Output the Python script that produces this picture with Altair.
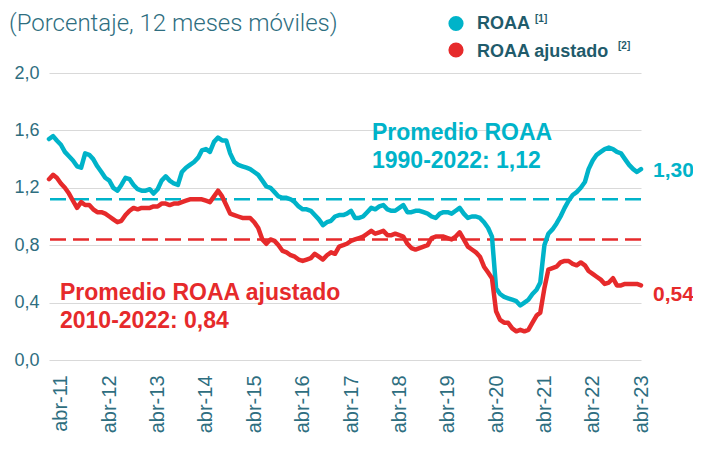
import altair as alt
import pandas as pd

# ROAA monthly (12-month rolling, %), Jan-2011 .. Apr-2023
roaa = [1.54, 1.56, 1.53, 1.50, 1.45, 1.42, 1.39, 1.35, 1.34, 1.44,
        1.43, 1.40, 1.35, 1.31, 1.27, 1.25, 1.20, 1.18, 1.22, 1.27,
        1.26, 1.22, 1.19, 1.18, 1.18, 1.19, 1.16, 1.19, 1.25, 1.28,
        1.25, 1.23, 1.22, 1.31, 1.34, 1.36, 1.38, 1.41, 1.46, 1.47,
        1.45, 1.52, 1.55, 1.53, 1.53, 1.44, 1.38, 1.36, 1.35, 1.34,
        1.33, 1.31, 1.29, 1.25, 1.21, 1.20, 1.17, 1.14, 1.13, 1.13,
        1.12, 1.10, 1.07, 1.05, 1.05, 1.04, 1.01, 0.98, 0.94, 0.96,
        0.97, 1.00, 1.01, 1.01, 1.02, 1.04, 0.99, 0.99, 1.00, 1.03,
        1.06, 1.05, 1.07, 1.08, 1.05, 1.04, 1.04, 1.06, 1.08, 1.03,
        1.03, 1.04, 1.04, 1.03, 1.02, 1.00, 0.99, 1.02, 1.03, 1.03,
        1.02, 1.04, 1.06, 1.02, 0.99, 1.00, 1.00, 0.99, 0.96, 0.92,
        0.86, 0.50, 0.46, 0.44, 0.43, 0.42, 0.41, 0.38, 0.40, 0.42,
        0.46, 0.49, 0.54, 0.80, 0.88, 0.91, 0.95, 1.00, 1.06, 1.11,
        1.15, 1.17, 1.20, 1.24, 1.33, 1.39, 1.43, 1.45, 1.47, 1.48,
        1.47, 1.45, 1.44, 1.40, 1.36, 1.33, 1.31, 1.33]

# ROAA ajustado
roaa_aj = [1.26, 1.29, 1.27, 1.23, 1.20, 1.16, 1.11, 1.06, 1.10, 1.08,
           1.08, 1.05, 1.03, 1.03, 1.02, 1.00, 0.98, 0.96, 0.97, 1.01,
           1.04, 1.06, 1.05, 1.06, 1.06, 1.06, 1.07, 1.07, 1.09, 1.09,
           1.08, 1.09, 1.09, 1.10, 1.11, 1.12, 1.12, 1.12, 1.12, 1.11,
           1.10, 1.14, 1.18, 1.14, 1.08, 1.02, 1.01, 1.00, 0.99, 0.99,
           0.99, 0.96, 0.92, 0.84, 0.81, 0.84, 0.83, 0.80, 0.76, 0.75,
           0.73, 0.72, 0.70, 0.69, 0.70, 0.71, 0.74, 0.72, 0.70, 0.73,
           0.75, 0.74, 0.79, 0.80, 0.81, 0.83, 0.84, 0.85, 0.86, 0.88,
           0.90, 0.88, 0.89, 0.90, 0.87, 0.87, 0.88, 0.87, 0.86, 0.81,
           0.78, 0.77, 0.78, 0.79, 0.80, 0.85, 0.86, 0.86, 0.86, 0.85,
           0.84, 0.86, 0.89, 0.84, 0.79, 0.77, 0.75, 0.72, 0.65, 0.61,
           0.57, 0.34, 0.28, 0.26, 0.26, 0.22, 0.20, 0.21, 0.20, 0.21,
           0.26, 0.31, 0.33, 0.50, 0.63, 0.64, 0.65, 0.68, 0.69, 0.69,
           0.67, 0.66, 0.68, 0.66, 0.62, 0.60, 0.58, 0.56, 0.53, 0.54,
           0.57, 0.52, 0.52, 0.53, 0.53, 0.53, 0.53, 0.52]

promedios = [1.12, 0.84]
y_ticks = [0.0, 0.4, 0.8, 1.2, 1.6, 2.0]
x_tick_years = list(range(2011, 2024))

CYAN = "#00b3c9"
RED = "#e62a2b"
AXIS_COLOR = "#2e6e80"
LEG_COLOR = "#1f5b6b"
FONT = "Liberation Sans"

fechas = pd.date_range("2011-01-01", periods=len(roaa), freq="MS")
df_roaa = pd.DataFrame({"fecha": fechas, "valor": roaa})
df_aj = pd.DataFrame({"fecha": fechas, "valor": roaa_aj})

x_enc = alt.X(
    "fecha:T",
    scale=alt.Scale(domain=[alt.DateTime(year=2011, month=1, date=1),
                            alt.DateTime(year=2023, month=4, date=1)], nice=False),
    axis=alt.Axis(values=[alt.DateTime(year=y, month=4, date=1) for y in x_tick_years],
                  labelExpr="'abr-' + timeFormat(datum.value, '%y')",
                  labelAngle=270, labelFontSize=20, labelColor=AXIS_COLOR, labelFont=FONT,
                  labelPadding=15, domain=False, ticks=False, tickSize=0, grid=False,
                  title=None, labelOverlap=False),
)
y_enc = alt.Y(
    "valor:Q",
    scale=alt.Scale(domain=[0, 2]),
    axis=alt.Axis(values=y_ticks,
                  labelExpr="replace(format(datum.value, '.1f'), '.', ',')",
                  grid=True, gridColor="#d9d9d9", gridWidth=1.2, domain=False,
                  ticks=False, tickSize=0, labelPadding=10, labelFontSize=18,
                  labelColor=AXIS_COLOR, labelFont=FONT, title=None),
)

line_b = alt.Chart(df_roaa).mark_line(color=CYAN, strokeWidth=4.5, strokeJoin="round",
                                      strokeCap="round").encode(x=x_enc, y=y_enc)
line_r = alt.Chart(df_aj).mark_line(color=RED, strokeWidth=4.5, strokeJoin="round",
                                    strokeCap="round").encode(x=x_enc, y=y_enc)

rule_b = alt.Chart(pd.DataFrame({"valor": [promedios[0]]})).mark_rule(
    color=CYAN, strokeDash=[16, 7], strokeWidth=2.5).encode(y=alt.Y("valor:Q"))
rule_r = alt.Chart(pd.DataFrame({"valor": [promedios[1]]})).mark_rule(
    color=RED, strokeDash=[16, 7], strokeWidth=2.5).encode(y=alt.Y("valor:Q"))


def txt(label, x, y, color, size, weight="bold", align="left", font=FONT):
    return alt.Chart(pd.DataFrame({"t": [label]})).mark_text(
        align=align, baseline="alphabetic", color=color, fontSize=size,
        fontWeight=weight, font=font).encode(text="t:N", x=alt.value(x), y=alt.value(y))


def dot(x, y, color):
    return alt.Chart(pd.DataFrame({"t": [0]})).mark_point(
        filled=True, size=230, opacity=1, shape="circle", color=color).encode(
        x=alt.value(x), y=alt.value(y))


title = txt("(Porcentaje, 12 meses móviles)", -40, -42, AXIS_COLOR, 24, weight=300,
            font="Roboto")

leg_b = dot(407, -49.5, CYAN)
leg_r = dot(407, -23, RED)
leg1 = txt("ROAA", 428, -44, LEG_COLOR, 18)
leg1s = txt("[1]", 486, -51, LEG_COLOR, 10)
leg2 = txt("ROAA ajustado", 428, -16.5, LEG_COLOR, 18)
leg2s = txt("[2]", 569, -24, LEG_COLOR, 10)

ann_b1 = txt("Promedio ROAA", 323, 67, CYAN, 23)
ann_b2 = txt("1990-2022: 1,12", 323, 95, CYAN, 23)
ann_r1 = txt("Promedio ROAA ajustado", 11, 227, RED, 23)
ann_r2 = txt("2010-2022: 0,84", 11, 255, RED, 23)

end_b = txt("1,30", 604, 104, CYAN, 21)
end_r = txt("0,54", 604, 228, RED, 21)

chart = alt.layer(
    rule_b, rule_r, line_b, line_r,
    title, leg_b, leg_r, leg1, leg1s, leg2, leg2s,
    ann_b1, ann_b2, ann_r1, ann_r2, end_b, end_r,
).properties(
    width=592, height=287,
    autosize=alt.AutoSizeParams(type="none"),
    padding={"left": 41, "top": 65, "right": 52, "bottom": 89},
).configure_view(stroke=None)

chart.save("out.html", embed_options={"renderer": "svg", "actions": False})
